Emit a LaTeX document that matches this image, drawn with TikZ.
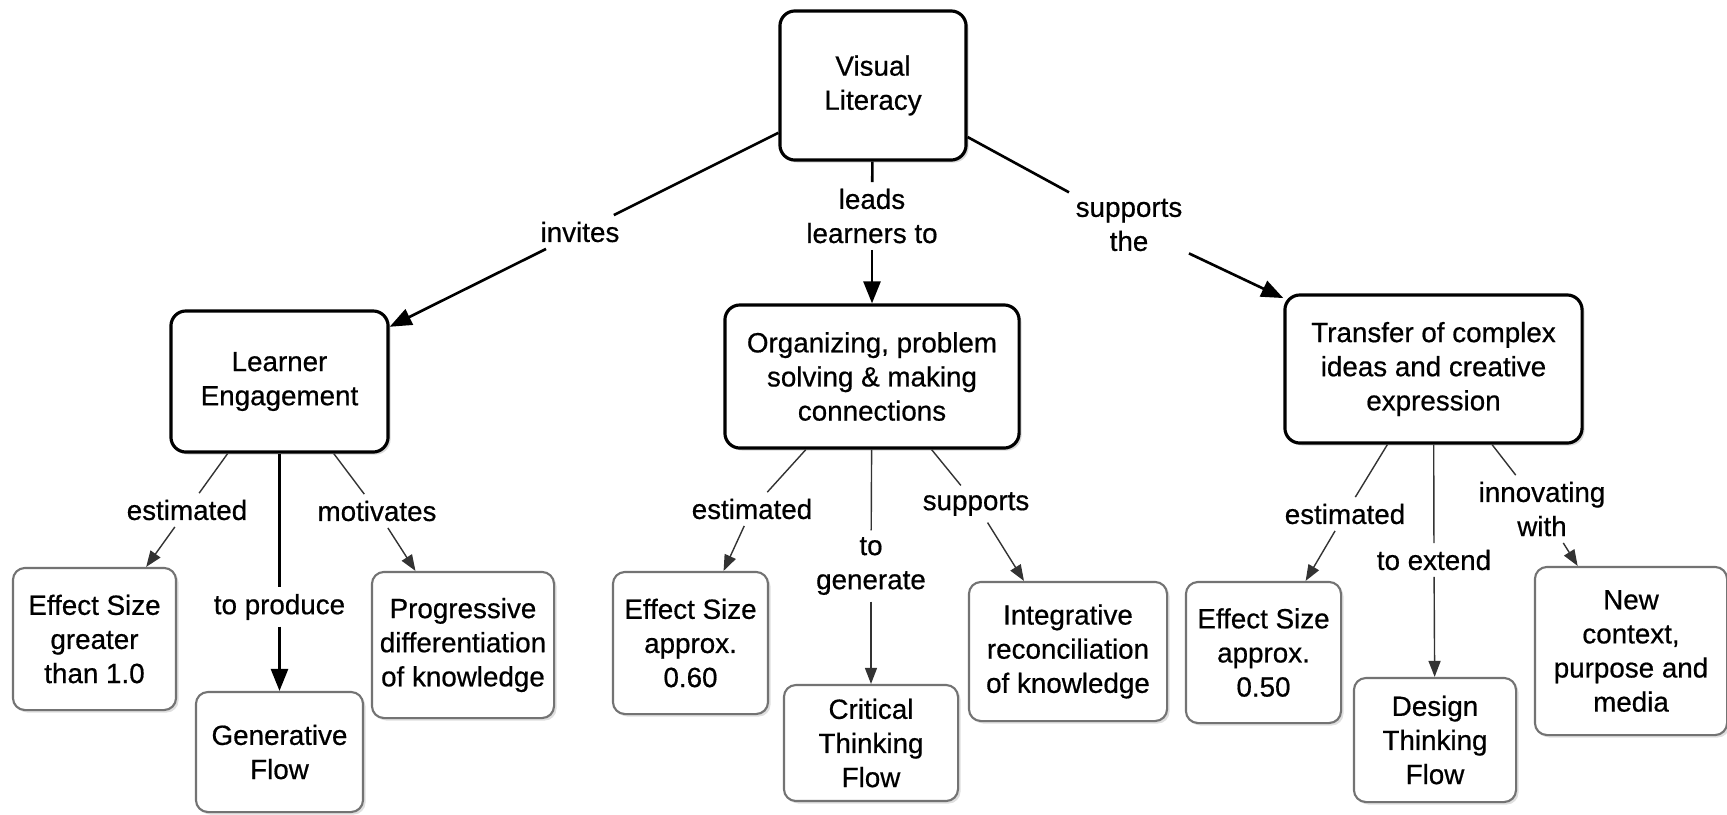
\documentclass[tikz,border=0pt]{standalone}
\usepackage{fontspec}
\setmainfont[FakeBold=0.6]{Liberation Sans}
\usetikzlibrary{arrows.meta,shadows}

\begin{document}
\begin{tikzpicture}[x=0.01cm,y=-0.01cm,
    font=\fontsize{7.9}{9.7}\selectfont,
    concept/.style={draw,line width=0.9pt,rounded corners=0.15cm,fill=white,
        align=center,inner sep=0pt,
        drop shadow={shadow xshift=0.025cm,shadow yshift=-0.025cm,opacity=0.3}},
    leaf/.style={draw=black!55,line width=0.6pt,rounded corners=0.12cm,fill=white,
        align=center,inner sep=0pt,
        drop shadow={shadow xshift=0.025cm,shadow yshift=-0.025cm,opacity=0.25}},
    link/.style={align=center,inner sep=0.06cm},
    main/.style={line width=0.75pt},
    sub/.style={line width=0.4pt,black!80},
    mainarr/.style={main,-{Triangle[length=0.22cm,width=0.17cm]}},
    subarr/.style={sub,-{Triangle[length=0.16cm,width=0.12cm]}}]
  \useasboundingbox (0,0) rectangle (1727,814);

  % top level
  \node[concept,minimum width=1.86cm,minimum height=1.49cm] (vl) at (873,85.5) {Visual\\Literacy};
  \node[concept,minimum width=2.17cm,minimum height=1.41cm] (le) at (279.5,381.5) {Learner\\Engagement};
  \node[concept,minimum width=2.94cm,minimum height=1.43cm] (org) at (872,376.5) {Organizing, problem\\solving \& making\\connections};
  \node[concept,minimum width=2.97cm,minimum height=1.48cm] (tr) at (1433.5,369) {Transfer of complex\\ideas and creative\\expression};

  % leaves
  \node[leaf,minimum width=1.63cm,minimum height=1.42cm] (es1) at (94.5,639) {Effect Size\\greater\\than 1.0};
  \node[leaf,minimum width=1.67cm,minimum height=1.20cm] (gf) at (279.5,752) {Generative\\Flow};
  \node[leaf,minimum width=1.82cm,minimum height=1.46cm] (prog) at (463,645) {Progressive\\differentiation\\of knowledge};
  \node[leaf,minimum width=1.55cm,minimum height=1.42cm] (es2) at (690.5,643) {Effect Size\\approx.\\0.60};
  \node[leaf,minimum width=1.74cm,minimum height=1.16cm] (ct) at (871,743) {Critical\\Thinking\\Flow};
  \node[leaf,minimum width=1.98cm,minimum height=1.39cm] (integ) at (1068,651.5) {Integrative\\reconciliation\\of knowledge};
  \node[leaf,minimum width=1.55cm,minimum height=1.41cm] (es3) at (1263.5,652.5) {Effect Size\\approx.\\0.50};
  \node[leaf,minimum width=1.62cm,minimum height=1.24cm] (dt) at (1435,740) {Design\\Thinking\\Flow};
  \node[leaf,minimum width=1.92cm,minimum height=1.68cm] (nc) at (1631,651) {New\\context,\\purpose and\\media};

  % linking phrases
  \node[link] (invites) at (580,232) {invites};
  \node[link] (leads) at (872,216) {leads\\learners to};
  \node[link] (supthe) at (1129,225) {supports\\the};
  \node[link] (est1) at (187,510) {estimated};
  \node[link] (prod) at (279.5,607) {to produce};
  \node[link] (motiv) at (377,511) {motivates};
  \node[link] (est2) at (752,509) {estimated};
  \node[link] (gen) at (871,566) {to\\generate};
  \node[link] (supp) at (976,504) {supports};
  \node[link] (est3) at (1345,514) {estimated};
  \node[link] (ext) at (1434,560) {to extend};
  \node[link] (innov) at (1542,509) {innovating\\with};

  \path[main]
    (vl) edge (invites)
         edge (leads)
         edge (supthe)
    (le) edge (prod);
  \path[mainarr]
    (invites) edge (le)
    (leads) edge (org)
    (supthe) edge (tr)
    (prod) edge (gf);
  \path[sub]
    (le) edge (est1) edge (motiv)
    (org) edge (est2) edge (gen) edge (supp)
    (tr) edge (est3) edge (ext) edge (innov);
  \path[subarr]
    (est1) edge (es1)
    (motiv) edge (prog)
    (est2) edge (es2)
    (gen) edge (ct)
    (supp) edge (integ)
    (est3) edge (es3)
    (ext) edge (dt)
    (innov) edge (nc);
\end{tikzpicture}
\end{document}
